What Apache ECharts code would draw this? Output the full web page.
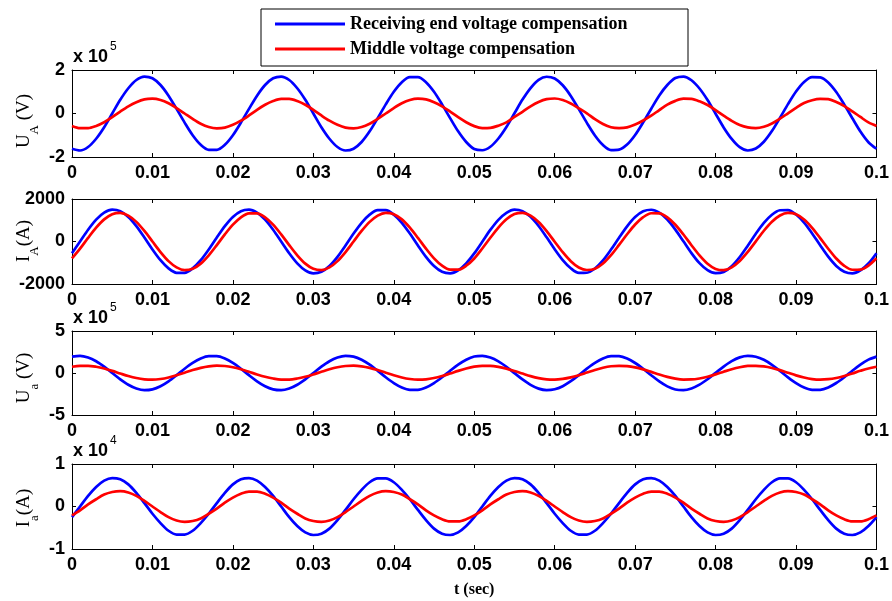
<!DOCTYPE html>
<html><head><meta charset="utf-8">
<script src="https://cdn.jsdelivr.net/npm/echarts@6/dist/echarts.min.js"></script>
<style>html,body{margin:0;padding:0;background:#fff}#c{width:892px;height:601px}</style>
</head><body><div id="c"></div>
<script>
// time axis (s)
const time = [
0,0.001,0.002,0.003,0.004,0.005,0.006,0.007,0.008,0.009,
0.010,0.011,0.012,0.013,0.014,0.015,0.016,0.017,0.018,0.019,
0.020,0.021,0.022,0.023,0.024,0.025,0.026,0.027,0.028,0.029,
0.030,0.031,0.032,0.033,0.034,0.035,0.036,0.037,0.038,0.039,
0.040,0.041,0.042,0.043,0.044,0.045,0.046,0.047,0.048,0.049,
0.050,0.051,0.052,0.053,0.054,0.055,0.056,0.057,0.058,0.059,
0.060,0.061,0.062,0.063,0.064,0.065,0.066,0.067,0.068,0.069,
0.070,0.071,0.072,0.073,0.074,0.075,0.076,0.077,0.078,0.079,
0.080,0.081,0.082,0.083,0.084,0.085,0.086,0.087,0.088,0.089,
0.090,0.091,0.092,0.093,0.094,0.095,0.096,0.097,0.098,0.099,
0.1];

const seriesNames = ['Receiving end voltage compensation', 'Middle voltage compensation'];

// U_A (x 10^5 V)
const uA_receiving = [
-1.62,-1.70,-1.54,-1.16,-0.63,0,0.63,1.16,1.54,1.70,
1.62,1.31,0.82,0.21,-0.42,-1.00,-1.44,-1.67,-1.67,-1.44,
-1.00,-0.42,0.21,0.82,1.31,1.62,1.70,1.54,1.16,0.63,
0,-0.63,-1.16,-1.54,-1.70,-1.62,-1.31,-0.82,-0.21,0.42,
1.00,1.44,1.67,1.67,1.44,1.00,0.42,-0.21,-0.82,-1.31,
-1.63,-1.69,-1.53,-1.15,-0.62,0.01,0.64,1.17,1.55,1.69,
1.61,1.30,0.81,0.20,-0.43,-1.01,-1.45,-1.68,-1.66,-1.43,
-0.99,-0.41,0.22,0.83,1.31,1.63,1.70,1.53,1.15,0.62,
-0.01,-0.64,-1.17,-1.55,-1.70,-1.61,-1.30,-0.81,-0.20,0.43,
1.01,1.45,1.67,1.66,1.43,0.99,0.41,-0.22,-0.83,-1.32,
-1.62];
const uA_middle = [
-0.57,-0.67,-0.67,-0.57,-0.40,-0.17,0.09,0.33,0.52,0.65,
0.68,0.62,0.47,0.25,0,-0.25,-0.47,-0.62,-0.68,-0.65,
-0.52,-0.33,-0.09,0.17,0.40,0.57,0.67,0.67,0.57,0.40,
0.17,-0.09,-0.33,-0.52,-0.65,-0.68,-0.62,-0.47,-0.25,0,
0.25,0.47,0.62,0.68,0.65,0.52,0.33,0.09,-0.17,-0.40,
-0.58,-0.67,-0.66,-0.56,-0.41,-0.16,0.08,0.33,0.53,0.66,
0.69,0.62,0.46,0.24,0.01,-0.26,-0.48,-0.63,-0.67,-0.64,
-0.51,-0.32,-0.10,0.16,0.41,0.58,0.68,0.67,0.56,0.39,
0.16,-0.10,-0.34,-0.53,-0.64,-0.67,-0.61,-0.46,-0.24,0.01,
0.26,0.48,0.61,0.67,0.66,0.53,0.34,0.10,-0.16,-0.41,
-0.57];

// I_A (A)
const iA_receiving = [
-552,0,552,1027,1357,1497,1427,1156,723,188,
-373,-882,-1266,-1473,-1473,-1266,-882,-373,188,723,
1156,1427,1497,1357,1027,552,0,-552,-1027,-1357,
-1497,-1427,-1156,-723,-188,373,882,1266,1473,1473,
1266,882,373,-188,-723,-1156,-1427,-1497,-1357,-1027,
-560,-10,545,1020,1350,1500,1430,1160,730,195,
-365,-875,-1260,-1480,-1470,-1270,-890,-380,180,715,
1150,1420,1495,1360,1035,560,10,-545,-1020,-1350,
-1490,-1430,-1160,-730,-195,365,875,1260,1470,1480,
1270,890,380,-180,-715,-1150,-1420,-1500,-1360,-1035,
-550];
const iA_middle = [
-794,-336,169,650,1040,1284,1347,1221,924,497,
0,-497,-924,-1221,-1347,-1284,-1040,-650,-169,336,
794,1140,1326,1326,1140,794,336,-169,-650,-1040,
-1284,-1347,-1221,-924,-497,0,497,924,1221,1347,
1284,1040,650,169,-336,-794,-1140,-1326,-1326,-1140,
-800,-330,175,655,1045,1290,1350,1215,920,490,
-10,-505,-930,-1225,-1340,-1280,-1035,-645,-160,340,
800,1145,1330,1320,1135,790,330,-175,-655,-1045,
-1290,-1350,-1215,-920,-490,5,505,930,1225,1345,
1280,1035,645,160,-340,-800,-1145,-1330,-1320,-1135,
-790];

// U_a (x 10^5 V)
const ua_receiving = [
1.95,2.05,1.85,1.40,0.75,0,-0.75,-1.40,-1.85,-2.05,
-1.95,-1.58,-0.99,-0.26,0.51,1.20,1.73,2.01,2.01,1.73,
1.20,0.51,-0.26,-0.99,-1.58,-1.95,-2.05,-1.85,-1.40,-0.75,
0,0.75,1.40,1.85,2.05,1.95,1.58,0.99,0.26,-0.51,
-1.20,-1.73,-2.01,-2.01,-1.73,-1.20,-0.51,0.26,0.99,1.58,
1.96,2.04,1.84,1.39,0.74,-0.01,-0.76,-1.41,-1.86,-2.04,
-1.94,-1.57,-0.98,-0.25,0.52,1.21,1.74,2.02,2.00,1.72,
1.19,0.50,-0.27,-1.00,-1.59,-1.96,-2.04,-1.84,-1.39,-0.74,
0.01,0.76,1.41,1.86,2.04,1.94,1.57,0.98,0.25,-0.52,
-1.21,-1.74,-2.02,-2.00,-1.72,-1.19,-0.50,0.27,1.00,1.59,
1.95];
const ua_middle = [
0.74,0.86,0.86,0.74,0.53,0.25,-0.06,-0.36,-0.60,-0.75,
-0.79,-0.71,-0.53,-0.27,0.04,0.35,0.61,0.79,0.87,0.83,
0.68,0.44,0.14,-0.17,-0.45,-0.66,-0.78,-0.78,-0.66,-0.45,
-0.17,0.14,0.44,0.68,0.83,0.87,0.79,0.61,0.35,0.04,
-0.27,-0.53,-0.71,-0.79,-0.75,-0.60,-0.36,-0.06,0.25,0.53,
0.75,0.86,0.85,0.73,0.52,0.24,-0.07,-0.37,-0.61,-0.76,
-0.79,-0.70,-0.52,-0.26,0.05,0.36,0.62,0.80,0.86,0.82,
0.67,0.43,0.13,-0.18,-0.46,-0.67,-0.78,-0.77,-0.65,-0.44,
-0.16,0.15,0.45,0.69,0.84,0.86,0.78,0.60,0.34,0.03,
-0.28,-0.54,-0.72,-0.79,-0.74,-0.59,-0.35,-0.05,0.26,0.54,
0.74];

// I_a (x 10^4 A)
const ia_receiving = [
-0.25,0,0.25,0.46,0.61,0.67,0.64,0.52,0.32,0.08,
-0.17,-0.39,-0.57,-0.66,-0.66,-0.57,-0.39,-0.17,0.08,0.32,
0.52,0.64,0.67,0.61,0.46,0.25,0,-0.25,-0.46,-0.61,
-0.67,-0.64,-0.52,-0.32,-0.08,0.17,0.39,0.57,0.66,0.66,
0.57,0.39,0.17,-0.08,-0.32,-0.52,-0.64,-0.67,-0.61,-0.46,
-0.25,0,0.25,0.46,0.61,0.67,0.64,0.52,0.32,0.08,
-0.17,-0.39,-0.57,-0.66,-0.66,-0.57,-0.39,-0.17,0.08,0.32,
0.52,0.64,0.67,0.61,0.46,0.25,0,-0.25,-0.46,-0.61,
-0.67,-0.64,-0.52,-0.32,-0.08,0.17,0.39,0.57,0.66,0.66,
0.57,0.39,0.17,-0.08,-0.32,-0.52,-0.64,-0.67,-0.61,-0.46,
-0.25];
const ia_middle = [
-0.21,-0.09,0.05,0.17,0.28,0.34,0.36,0.33,0.25,0.13,
0,-0.13,-0.25,-0.33,-0.36,-0.34,-0.28,-0.17,-0.05,0.09,
0.21,0.30,0.35,0.35,0.30,0.21,0.09,-0.05,-0.17,-0.28,
-0.34,-0.36,-0.33,-0.25,-0.13,0,0.13,0.25,0.33,0.36,
0.34,0.28,0.17,0.05,-0.09,-0.21,-0.30,-0.35,-0.35,-0.30,
-0.21,-0.09,0.05,0.17,0.28,0.34,0.36,0.33,0.25,0.13,
0,-0.13,-0.25,-0.33,-0.36,-0.34,-0.28,-0.17,-0.05,0.09,
0.21,0.30,0.35,0.35,0.30,0.21,0.09,-0.05,-0.17,-0.28,
-0.34,-0.36,-0.33,-0.25,-0.13,0,0.13,0.25,0.33,0.36,
0.34,0.28,0.17,0.05,-0.09,-0.21,-0.30,-0.35,-0.35,-0.30,
-0.21];

// axis ranges / tick labels
const yMin = [-2, -2000, -5, -1];
const yMax = [2, 2000, 5, 1];
const yStep = [2, 2000, 5, 1];
const xMin = 0, xMax = 0.1, xStep = 0.01;
const yNameMain = ['U', 'I', 'U', 'I'];
const yNameSub = ['A', 'A', 'a', 'a'];
const yNameUnit = [' (V)', '(A)', ' (V)', '(A)'];
const scaleExp = ['5', '', '5', '4'];
const xAxisTitle = 't (sec)';

const receiving = [uA_receiving, iA_receiving, ua_receiving, ia_receiving];
const middle = [uA_middle, iA_middle, ua_middle, ia_middle];

// layout
const gridTop = [70, 199, 331, 464];
const gridHeight = [87, 85, 84, 85];
const nameY = [121, 241, 378, 508];

const chart = echarts.init(document.getElementById('c'), null, {renderer: 'canvas'});
const lbl = {fontFamily: 'Liberation Sans', fontWeight: 'bold', fontSize: 18, color: '#000'};
const axisLine = {show: true, onZero: false, lineStyle: {color: '#000', width: 1}};
const axisTick = {show: true, inside: true, length: 4, lineStyle: {color: '#000', width: 1}};

const grids = [], xAxes = [], yAxes = [], series = [], graphics = [];
for (let i = 0; i < 4; i++) {
  grids.push({left: 72, right: 13, top: gridTop[i], height: gridHeight[i]});
  xAxes.push({gridIndex: i, type: 'value', min: xMin, max: xMax, interval: xStep, position: 'bottom',
    axisLine, axisTick, splitLine: {show: false},
    axisLabel: Object.assign({}, lbl, {margin: 7, formatter: v => String(+v.toFixed(2))}),
    name: i === 3 ? xAxisTitle : '', nameLocation: 'middle', nameGap: 33,
    nameTextStyle: {fontFamily: 'Liberation Serif', fontWeight: 'bold', fontSize: 16, color: '#000'}});
  xAxes.push({gridIndex: i, type: 'value', min: xMin, max: xMax, interval: xStep, position: 'top',
    axisLine, axisTick, splitLine: {show: false}, axisLabel: {show: false}});
  yAxes.push({gridIndex: i, type: 'value', min: yMin[i], max: yMax[i], interval: yStep[i], position: 'left',
    axisLine, axisTick, splitLine: {show: false},
    axisLabel: Object.assign({}, lbl, {margin: 7, formatter: v => String(v)})});
  yAxes.push({gridIndex: i, type: 'value', min: yMin[i], max: yMax[i], interval: yStep[i], position: 'right',
    axisLine, axisTick, splitLine: {show: false}, axisLabel: {show: false}});
  series.push({type: 'line', name: seriesNames[0], xAxisIndex: 2 * i, yAxisIndex: 2 * i,
    data: time.map((t, k) => [t, receiving[i][k]]), showSymbol: false, smooth: 0.3,
    lineStyle: {color: '#0000ff', width: 2.7}, itemStyle: {color: '#0000ff'}, z: 2, animation: false});
  series.push({type: 'line', name: seriesNames[1], xAxisIndex: 2 * i, yAxisIndex: 2 * i,
    data: time.map((t, k) => [t, middle[i][k]]), showSymbol: false, smooth: 0.3,
    lineStyle: {color: '#ff0000', width: 2.7}, itemStyle: {color: '#ff0000'}, z: 3, animation: false});

  // y-axis title (rotated, with subscript)
  graphics.push({type: 'text', x: 28, y: nameY[i], rotation: Math.PI / 2, silent: true,
    style: {text: '{m|' + yNameMain[i] + '}{s|' + yNameSub[i] + '}{m|' + yNameUnit[i] + '}',
      align: 'center', verticalAlign: 'middle',
      rich: {
        m: {fontFamily: 'Liberation Serif', fontSize: 19, lineHeight: 20, verticalAlign: 'top', fill: '#000', color: '#000'},
        s: {fontFamily: 'Liberation Serif', fontSize: 13, lineHeight: 27, verticalAlign: 'bottom', fill: '#000', color: '#000'}
      }}});
  if (scaleExp[i]) {
    graphics.push({type: 'text', x: 73, y: gridTop[i] - 13, silent: true,
      style: {text: 'x 10', fontFamily: 'Liberation Sans', fontWeight: 'bold', fontSize: 18, fill: '#000', align: 'left', verticalAlign: 'middle'}});
    graphics.push({type: 'text', x: 110, y: gridTop[i] - 23, silent: true,
      style: {text: scaleExp[i], fontFamily: 'Liberation Sans', fontSize: 12, fill: '#000', align: 'left', verticalAlign: 'middle'}});
  }
}

chart.setOption({
  backgroundColor: '#fff',
  animation: false,
  grid: grids, xAxis: xAxes, yAxis: yAxes, series,
  legend: {data: seriesNames, orient: 'vertical', left: 261, top: 9, padding: [5, 12, 7, 14], itemGap: 5,
    itemWidth: 70, itemHeight: 3, icon: 'rect', backgroundColor: '#fff', borderColor: '#000', borderWidth: 1,
    selectedMode: false, z: 10,
    textStyle: {fontFamily: 'Liberation Serif', fontWeight: 'bold', fontSize: 18, color: '#000', width: 326, lineHeight: 20}},
  graphic: graphics
});
</script></body></html>
